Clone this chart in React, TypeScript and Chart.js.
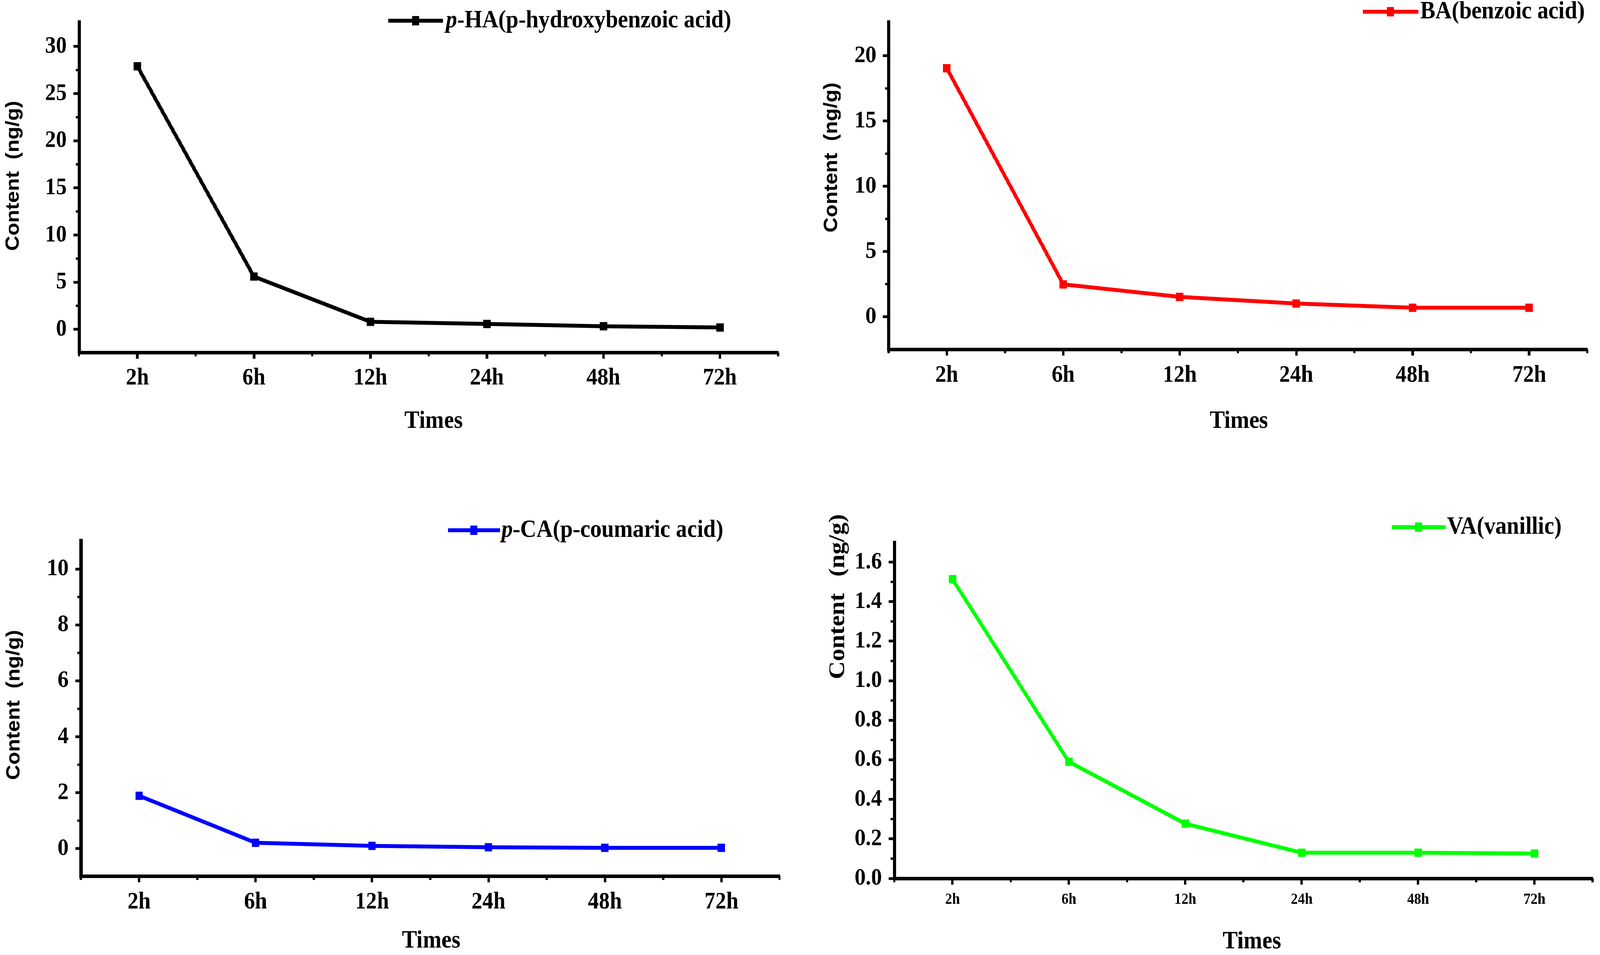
import React, { useEffect, useRef, useState } from 'react';
import { Chart, registerables } from 'chart.js';

Chart.register(...registerables);

// ---- data ----
const times = ['2h', '6h', '12h', '24h', '48h', '72h'];

const haValues = [27.9, 5.6, 0.8, 0.57, 0.33, 0.2];
const baValues = [19.05, 2.48, 1.52, 1.01, 0.69, 0.69];
const caValues = [1.89, 0.21, 0.1, 0.05, 0.03, 0.03];
const vaValues = [1.514, 0.59, 0.277, 0.13, 0.13, 0.126];

const haTicks = [0, 5, 10, 15, 20, 25, 30];
const baTicks = [0, 5, 10, 15, 20];
const caTicks = [0, 2, 4, 6, 8, 10];
const vaTicks = [0, 0.2, 0.4, 0.6, 0.8, 1.0, 1.2, 1.4, 1.6];

const SERIF = '"Liberation Serif", "Times New Roman", serif';
const SANS = '"Liberation Sans", Arial, sans-serif';

const PAGE_W = 4550;
const PAGE_H = 2444;

interface PanelSpec {
  id: string;
  values: number[];
  ticks: number[];
  decimals: number;
  min: number;
  max: number;
  color: string;
  italicPrefix: string;
  name: string;
  box: [number, number, number, number]; // x, y, w, h on page
  area: [number, number, number, number]; // left, top, right, bottom on page
  legend: { x1: number; x2: number; textX: number; y: number };
  yTitle: { x: number; y: number; serif: boolean };
  xTitle: { x: number; y: number };
  xTickSize: number;
  xTickPad: number;
}

const panels: PanelSpec[] = [
  {
    id: 'ha',
    values: haValues,
    ticks: haTicks,
    decimals: 0,
    min: -2.45,
    max: 32.6,
    color: '#000000',
    italicPrefix: 'p',
    name: '-HA(p-hydroxybenzoic acid)',
    box: [0, 0, 2275, 1222],
    area: [225, 43, 2213, 902],
    legend: { x1: 1104, x2: 1260, textX: 1268, y: 53 },
    yTitle: { x: 38, y: 450, serif: false },
    xTitle: { x: 1233, y: 1078 },
    xTickSize: 62,
    xTickPad: 13,
  },
  {
    id: 'ba',
    values: baValues,
    ticks: baTicks,
    decimals: 0,
    min: -2.5,
    max: 22.6,
    color: '#ff0000',
    italicPrefix: '',
    name: 'BA(benzoic acid)',
    box: [2275, 0, 2275, 1222],
    area: [2527, 34, 4514, 894],
    legend: { x1: 3876, x2: 4033, textX: 4039, y: 30 },
    yTitle: { x: 2365, y: 403, serif: false },
    xTitle: { x: 3523, y: 1078 },
    xTickSize: 62,
    xTickPad: 14,
  },
  {
    id: 'ca',
    values: caValues,
    ticks: caTicks,
    decimals: 0,
    min: -0.98,
    max: 11.02,
    color: '#0000ff',
    italicPrefix: 'p',
    name: '-CA(p-coumaric acid)',
    box: [0, 1222, 2275, 1222],
    area: [230, 1383, 2217, 2242],
    legend: { x1: 1274, x2: 1422, textX: 1426, y: 1357 },
    yTitle: { x: 40, y: 1804, serif: false },
    xTitle: { x: 1226, y: 2408 },
    xTickSize: 62,
    xTickPad: 14,
  },
  {
    id: 'va',
    values: vaValues,
    ticks: vaTicks,
    decimals: 1,
    min: 0,
    max: 1.7,
    color: '#00ff00',
    italicPrefix: '',
    name: 'VA(vanillic)',
    box: [2275, 1222, 2275, 1222],
    area: [2543, 1388, 4529, 2248],
    legend: { x1: 3958, x2: 4111, textX: 4115, y: 1349 },
    yTitle: { x: 2383, y: 1527, serif: true },
    xTitle: { x: 3560, y: 2410 },
    xTickSize: 40,
    xTickPad: 15,
  },
];

const makeDecor = (p: PanelSpec) => ({
  id: 'decor-' + p.id,
  afterDraw(chart: Chart) {
    const ctx = chart.ctx;
    const { left, right, bottom } = chart.chartArea;
    const ox = p.box[0];
    const oy = p.box[1];
    ctx.save();

    // minor ticks
    ctx.strokeStyle = '#000';
    ctx.lineWidth = 6;
    const n = times.length;
    for (let i = 0; i <= n; i++) {
      const x = left + (i * (right - left)) / n;
      ctx.beginPath();
      ctx.moveTo(x, bottom);
      ctx.lineTo(x, bottom + 10);
      ctx.stroke();
    }
    const ys = chart.scales.y;
    for (let i = 0; i < p.ticks.length - 1; i++) {
      const py = ys.getPixelForValue((p.ticks[i] + p.ticks[i + 1]) / 2);
      ctx.beginPath();
      ctx.moveTo(left - 10, py);
      ctx.lineTo(left, py);
      ctx.stroke();
    }

    // legend
    const lg = p.legend;
    const ly = lg.y - oy;
    ctx.strokeStyle = p.color;
    ctx.lineWidth = 10;
    ctx.beginPath();
    ctx.moveTo(lg.x1 - ox, ly);
    ctx.lineTo(lg.x2 - ox, ly);
    ctx.stroke();
    ctx.fillStyle = p.color;
    const mx = (lg.x1 + lg.x2) / 2 - ox;
    ctx.fillRect(mx - 10, ly - 12, 20, 24);

    ctx.fillStyle = '#000';
    ctx.textBaseline = 'middle';
    ctx.textAlign = 'left';
    let tx = lg.textX - ox;
    if (p.italicPrefix) {
      ctx.font = `italic bold 64px ${SERIF}`;
      ctx.fillText(p.italicPrefix, tx, ly);
      tx += ctx.measureText(p.italicPrefix).width;
    }
    ctx.font = `bold 64px ${SERIF}`;
    ctx.fillText(p.name, tx, ly);

    // y title (rotated)
    ctx.save();
    ctx.translate(p.yTitle.x - ox, p.yTitle.y - oy);
    ctx.rotate(-Math.PI / 2);
    const f = p.yTitle.serif ? `bold 64px ${SERIF}` : `bold 54px ${SANS}`;
    const gap = p.yTitle.serif ? 42 : 30;
    ctx.font = f;
    const w1 = ctx.measureText('Content').width;
    const w2 = ctx.measureText('(ng/g)').width;
    let sx = -(w1 + gap + w2) / 2;
    ctx.fillText('Content', sx, 0);
    sx += w1 + gap;
    ctx.fillText('(ng/g)', sx, 0);
    ctx.restore();

    // x title
    ctx.font = `bold 64px ${SERIF}`;
    ctx.textAlign = 'center';
    ctx.fillText('Times', p.xTitle.x - ox, p.xTitle.y - oy);

    ctx.restore();
  },
});

const Panel: React.FC<{ spec: PanelSpec }> = ({ spec }) => {
  const canvasRef = useRef<HTMLCanvasElement>(null);
  const chartRef = useRef<Chart | null>(null);

  useEffect(() => {
    if (!canvasRef.current) return;
    if (chartRef.current) chartRef.current.destroy();

    const [bx, by, bw, bh] = spec.box;
    const [L, T, R, B] = spec.area;
    const yAxisW = L - bx;
    const xAxisH = by + bh - B;

    const axisCommon = {
      grid: {
        drawOnChartArea: false,
        drawTicks: true,
        tickLength: 16,
        tickWidth: 7,
        tickColor: '#000',
      },
      border: { display: true, color: '#000', width: 9 },
    };

    chartRef.current = new Chart(canvasRef.current, {
      type: 'line',
      data: {
        labels: times,
        datasets: [
          {
            data: spec.values,
            borderColor: spec.color,
            backgroundColor: spec.color,
            borderWidth: 10,
            pointStyle: 'rect',
            pointRadius: 15,
            pointBorderWidth: 0,
            pointBackgroundColor: spec.color,
            tension: 0,
            fill: false,
          },
        ],
      },
      options: {
        animation: false,
        responsive: false,
        devicePixelRatio: 1,
        layout: {
          padding: { left: 0, top: T - by, right: bx + bw - R, bottom: 0 },
        },
        plugins: {
          legend: { display: false },
          tooltip: { enabled: false },
        },
        scales: {
          x: {
            type: 'category',
            offset: true,
            ...axisCommon,
            ticks: {
              color: '#000',
              padding: spec.xTickPad,
              maxRotation: 0,
              autoSkip: false,
              font: { family: SERIF, size: spec.xTickSize, weight: 'bold' },
            },
            afterFit: (s: any) => {
              s.height = xAxisH;
            },
          },
          y: {
            type: 'linear',
            min: spec.min,
            max: spec.max,
            ...axisCommon,
            ticks: {
              color: '#000',
              padding: 19,
              font: { family: SERIF, size: 62, weight: 'bold' },
              callback: (v: any) => Number(v).toFixed(spec.decimals),
            },
            afterBuildTicks: (s: any) => {
              s.ticks = spec.ticks.map((v) => ({ value: v }));
            },
            afterFit: (s: any) => {
              s.width = yAxisW;
            },
          },
        },
      } as any,
      plugins: [makeDecor(spec)],
    });

    return () => {
      if (chartRef.current) {
        chartRef.current.destroy();
        chartRef.current = null;
      }
    };
  }, [spec]);

  const [bx, by, bw, bh] = spec.box;
  return (
    <div style={{ position: 'absolute', left: bx, top: by, width: bw, height: bh }}>
      <canvas ref={canvasRef} width={bw} height={bh} style={{ width: bw, height: bh, display: 'block' }} />
    </div>
  );
};

const viewportScale = () => ({ x: window.innerWidth / PAGE_W, y: window.innerHeight / PAGE_H });

const App: React.FC = () => {
  // the viewport in CSS pixels need not be 4550x2444, so the drawing is stretched to fill it
  const [scale, setScale] = useState(viewportScale);

  useEffect(() => {
    const onResize = () => setScale(viewportScale());
    window.addEventListener('resize', onResize);
    return () => window.removeEventListener('resize', onResize);
  }, []);

  return (
    <div
      style={{
        position: 'fixed',
        left: 0,
        top: 0,
        width: PAGE_W,
        height: PAGE_H,
        background: '#ffffff',
        overflow: 'hidden',
        transform: `scale(${scale.x}, ${scale.y})`,
        transformOrigin: '0 0',
      }}
    >
      {panels.map((p) => (
        <Panel key={p.id} spec={p} />
      ))}
    </div>
  );
};

export default App;
